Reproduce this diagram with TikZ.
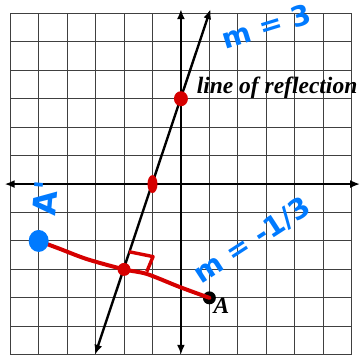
\documentclass[tikz,border=0pt]{standalone}
\usepackage{fontspec}
\setmainfont{Liberation Serif}
\newfontfamily\handfont{DejaVu Sans}
\usetikzlibrary{arrows.meta,calc}
\definecolor{penred}{RGB}{214,0,0}
\definecolor{penblue}{RGB}{0,122,255}
\tikzset{
  axisline/.style={line width=2.4pt, {Latex[length=10pt,width=8pt]}-{Latex[length=10pt,width=8pt]}},
  pen/.style={penblue, font=\handfont\bfseries\fontsize{28}{28}\selectfont, inner sep=0pt},
  label/.style={font=\bfseries\itshape\fontsize{23.5}{23.5}\selectfont, inner sep=0pt}
}
\begin{document}
\begin{tikzpicture}[scale=1]
  \useasboundingbox (-6.36,-6.12) rectangle (6.40,6.47);

  % Grid
  \draw[black!75, line width=1pt] (-6,-6) grid (6,6);

  % Coordinate axes
  \coordinate (xl) at (-6.2,0);
  \coordinate (xr) at (6.3,0);
  \coordinate (yb) at (0,-6.0);
  \coordinate (yt) at (0,6.15);
  \draw[axisline] (xl) -- (xr);
  \draw[axisline] (yb) -- (yt);

  % Line of reflection  y = 3x + 3
  \coordinate (lo) at (-3.02,-6.0);
  \coordinate (hi) at (1.04,6.15);
  \draw[axisline] (lo) -- (hi);
  \node[label, anchor=base west] (lor) at (0.55,3.2) {line of reflection};

  % Points
  \coordinate (A) at (1,-4);
  \coordinate (Ap) at (-5,-2);
  \coordinate (M) at (-2,-3);
  \fill (A) circle (6.5pt);
  \node[label, anchor=base west] (Alab) at (1.14,-4.55) {A};

  % Perpendicular from A to its image
  \draw[penred, line width=4pt, line cap=round, line join=round]
    plot[smooth, tension=0.5] coordinates {(Ap) (-4.25,-2.28) (-3.3,-2.64) (M) (-1.2,-3.16) (-0.04,-3.62) (A)};

  % Right angle mark
  \draw[penred, line width=3.4pt, line join=round]
    ($(M)+(0.18,0.62)$) -- ($(M)+(1.02,0.45)$) -- ($(M)+(0.8,-0.08)$);

  % Dots on the line of reflection
  \fill[penred] (0,3) ellipse (7pt and 7.5pt);
  \fill[penred] (-1,0) ellipse (5pt and 9pt);
  \fill[penred] (M) circle (6.5pt);
  \fill[penblue] (Ap) ellipse (10pt and 11pt);

  % Hand written notes
  \node[pen, rotate=17] (m1) at (3.0,5.55) {m = 3};
  \node[pen, rotate=33] (m2) at (2.5,-2.0) {m = -1/3};
  \node[pen, rotate=85, font=\handfont\bfseries\fontsize{32}{32}\selectfont] (Aimg) at (-4.78,-0.5) {A'};
\end{tikzpicture}
\end{document}
